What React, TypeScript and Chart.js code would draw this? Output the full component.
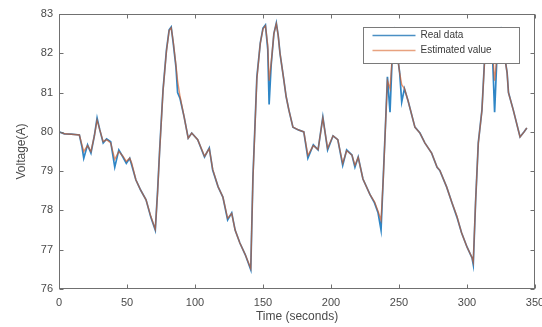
import { useEffect, useRef } from "react";
import { Chart, registerables } from "chart.js";

Chart.register(...registerables);

const timeSeconds = [
  0, 4, 9, 15, 17, 18.2, 21, 23.5, 26, 28, 30, 32.5, 35, 38, 41, 44, 47, 49.5, 52, 53.5,
  56.5, 60, 64, 67.5, 70.8, 72.5, 74, 76.5, 79, 81, 82.5, 84, 86, 87.2, 89, 92, 95, 97.6,
  102, 107, 110.5, 113, 117, 120.5, 124, 127, 129.5, 133, 137, 141, 142.6, 145.5, 148, 150,
  151.8, 153.5, 154.5, 156, 158, 159.8, 161.2, 162.5, 165, 167, 169, 172, 176, 180, 183,
  187, 190.5, 194, 197.5, 201.5, 205, 208.6, 211.5, 215.4, 217.6, 220, 223.5, 228.7, 232,
  234.6, 236.8, 238.5, 240, 241.5, 243.4, 245, 247, 249, 250.5, 252, 254, 256.6, 261.7,
  265.4, 269, 274, 278, 280, 285, 289, 292.6, 296, 300, 303.7, 304.6, 306.3, 308.3, 311,
  313, 315.5, 318.5, 320.3, 322, 325, 329.5, 330.5, 334, 339, 342, 344,
];

const realData = [
  80.0, 79.95, 79.94, 79.92, 79.6, 79.33, 79.67, 79.46, 79.9, 80.35, 80.05, 79.72, 79.82, 79.75, 79.1, 79.54, 79.36, 79.2, 79.33, 79.15,
  78.78, 78.52, 78.27, 77.83, 77.5, 78.5, 79.54, 81.07, 82.08, 82.6, 82.67, 82.26, 81.65, 81.0, 80.85, 80.38, 79.84, 79.97,
  79.8, 79.36, 79.59, 79.03, 78.6, 78.34, 77.76, 77.94, 77.5, 77.17, 76.87, 76.49, 78.85, 81.4, 82.26, 82.64,
  82.72, 82.1, 80.7, 81.7, 82.5, 82.77, 82.45, 82.0, 81.4, 80.9, 80.56, 80.12, 80.05, 80.0, 79.33,
  79.67, 79.54, 80.38, 79.54, 79.9, 79.8, 79.15, 79.54, 79.41, 79.1, 79.36, 78.8, 78.4, 78.19,
  77.94, 77.5, 78.9, 80.12, 81.4, 80.5, 81.9, 82.5, 81.9, 81.5, 80.76, 81.1, 80.8, 80.12,
  79.97, 79.72, 79.46, 79.1, 79.02, 78.6, 78.19, 77.83, 77.43, 77.07, 76.79, 76.62, 78.2, 79.72, 80.56,
  81.9, 82.5, 82.2, 80.5, 81.9, 82.55, 81.5, 81.0, 80.56, 79.87, 80.0, 80.1,
];

const estimatedValue = [
  80.0, 79.95, 79.94, 79.92, 79.65, 79.5, 79.65, 79.5, 79.9, 80.3, 80.05, 79.75, 79.8, 79.72, 79.3, 79.5, 79.38, 79.25, 79.33, 79.2,
  78.78, 78.52, 78.27, 77.85, 77.52, 78.45, 79.5, 81.05, 82.05, 82.58, 82.65, 82.3, 81.7, 81.3, 80.9, 80.38, 79.84, 79.97,
  79.8, 79.38, 79.57, 79.05, 78.6, 78.34, 77.8, 77.92, 77.5, 77.17, 76.87, 76.52, 78.8, 81.35, 82.25, 82.62,
  82.7, 82.2, 81.3, 81.75, 82.5, 82.75, 82.45, 82.0, 81.4, 80.9, 80.56, 80.12, 80.05, 80.0, 79.4,
  79.65, 79.55, 80.35, 79.58, 79.9, 79.8, 79.2, 79.52, 79.41, 79.15, 79.35, 78.8, 78.4, 78.22,
  77.98, 77.75, 78.85, 80.1, 81.3, 81.1, 81.9, 82.48, 81.9, 81.5, 81.2, 81.1, 80.8, 80.12,
  79.97, 79.72, 79.46, 79.1, 79.02, 78.6, 78.19, 77.85, 77.43, 77.07, 76.8, 76.68, 78.2, 79.7, 80.55,
  81.85, 82.48, 82.2, 81.3, 81.9, 82.53, 81.5, 81.0, 80.56, 79.87, 80.0, 80.1,
];

const xTickValues = [0, 50, 100, 150, 200, 250, 300, 350];
const yTickValues = [76, 77, 78, 79, 80, 81, 82, 83];
const seriesLabels = ["Real data", "Estimated value"];
const seriesColors = ["#2f86c6", "rgba(217, 83, 25, 0.62)"];
const legendColors = ["#4a8fc4", "#e8a27f"];

const FONT = "'Liberation Sans', Arial, Helvetica, sans-serif";

const matlabBox = {
  id: "matlabBox",
  afterDatasetsDraw(chart: any) {
    const { ctx, chartArea: a, scales } = chart;
    const L = Math.round(a.left) + 0.5;
    const R = Math.round(a.right) - 0.5;
    const T = Math.round(a.top) + 0.5;
    const B = Math.round(a.bottom) - 0.5;
    ctx.save();
    ctx.strokeStyle = "#707070";
    ctx.lineWidth = 1;
    ctx.beginPath();
    xTickValues.forEach((v) => {
      const px = Math.round(scales.x.getPixelForValue(v)) + 0.5;
      ctx.moveTo(px, B);
      ctx.lineTo(px, B - 4);
      ctx.moveTo(px, T);
      ctx.lineTo(px, T + 4);
    });
    yTickValues.forEach((v) => {
      const py = Math.round(scales.y.getPixelForValue(v)) + 0.5;
      ctx.moveTo(L, py);
      ctx.lineTo(L + 4, py);
      ctx.moveTo(R, py);
      ctx.lineTo(R - 4, py);
    });
    ctx.stroke();
    ctx.strokeRect(L, T, R - L, B - T);

    // legend box (drawn over the lines, as in the reference)
    const bw = 156;
    const bh = 36;
    const bx = Math.round(a.right) - 16 - bw + 0.5;
    const by = Math.round(a.top) + 13 + 0.5;
    ctx.fillStyle = "#ffffff";
    ctx.fillRect(bx, by, bw, bh);
    ctx.strokeStyle = "#7a7a7a";
    ctx.strokeRect(bx, by, bw, bh);
    ctx.font = `10px ${FONT}`;
    ctx.textBaseline = "middle";
    ctx.textAlign = "left";
    seriesLabels.forEach((lab, i) => {
      const yy = by + 8 + i * 15;
      ctx.strokeStyle = legendColors[i];
      ctx.lineWidth = 1.3;
      ctx.beginPath();
      ctx.moveTo(bx + 9, yy);
      ctx.lineTo(bx + 52, yy);
      ctx.stroke();
      ctx.fillStyle = "#3a3a3a";
      ctx.fillText(lab, bx + 57, yy);
    });
    ctx.restore();
  },
};

export default function App() {
  const ref = useRef<HTMLCanvasElement | null>(null);

  useEffect(() => {
    if (!ref.current) return;
    const toPoints = (ys: number[]) => timeSeconds.map((t, i) => ({ x: t, y: ys[i] }));
    const chart = new Chart(ref.current, {
      type: "line",
      data: {
        datasets: [
          {
            label: seriesLabels[0],
            data: toPoints(realData),
            borderColor: seriesColors[0],
            borderWidth: 1.7,
            pointRadius: 0,
            tension: 0,
            order: 1,
          },
          {
            label: seriesLabels[1],
            data: toPoints(estimatedValue),
            borderColor: seriesColors[1],
            borderWidth: 1.4,
            pointRadius: 0,
            tension: 0,
            order: 0,
          },
        ],
      },
      options: {
        animation: false,
        responsive: false,
        maintainAspectRatio: false,
        layout: { padding: { top: 14, right: 7, left: 0, bottom: 0 } },
        plugins: {
          legend: { display: false },
          tooltip: { enabled: false },
        },
        scales: {
          x: {
            type: "linear",
            min: 0,
            max: 350,
            afterBuildTicks: (s: any) => {
              s.ticks = xTickValues.map((v) => ({ value: v }));
            },
            afterFit: (s: any) => {
              s.height = 38;
              s.paddingLeft = 0;
              s.paddingRight = 0;
            },
            grid: { display: false, drawTicks: false },
            border: { display: false },
            ticks: {
              padding: 7,
              maxRotation: 0,
              autoSkip: false,
              color: "#4a4a4a",
              font: { family: FONT, size: 11 },
            },
            title: {
              display: true,
              text: "Time (seconds)",
              color: "#4a4a4a",
              font: { family: FONT, size: 12 },
              padding: { top: 0, bottom: 3 },
            },
          },
          y: {
            type: "linear",
            min: 76,
            max: 83,
            afterBuildTicks: (s: any) => {
              s.ticks = yTickValues.map((v) => ({ value: v }));
            },
            afterFit: (s: any) => {
              s.width = 59;
              s.paddingTop = 0;
              s.paddingBottom = 0;
            },
            grid: { display: false, drawTicks: false },
            border: { display: false },
            ticks: {
              padding: 6,
              autoSkip: false,
              color: "#4a4a4a",
              font: { family: FONT, size: 11 },
            },
            title: {
              display: true,
              text: "Voltage(A)",
              color: "#4a4a4a",
              font: { family: FONT, size: 12 },
              padding: { top: 14, bottom: 0 },
            },
          },
        },
      },
      plugins: [matlabBox],
    });
    return () => chart.destroy();
  }, []);

  return (
    <div style={{ position: "absolute", left: 0, top: 0, width: 542, height: 327, background: "#fff" }}>
      <canvas ref={ref} width={542} height={327} style={{ display: "block" }} />
    </div>
  );
}
